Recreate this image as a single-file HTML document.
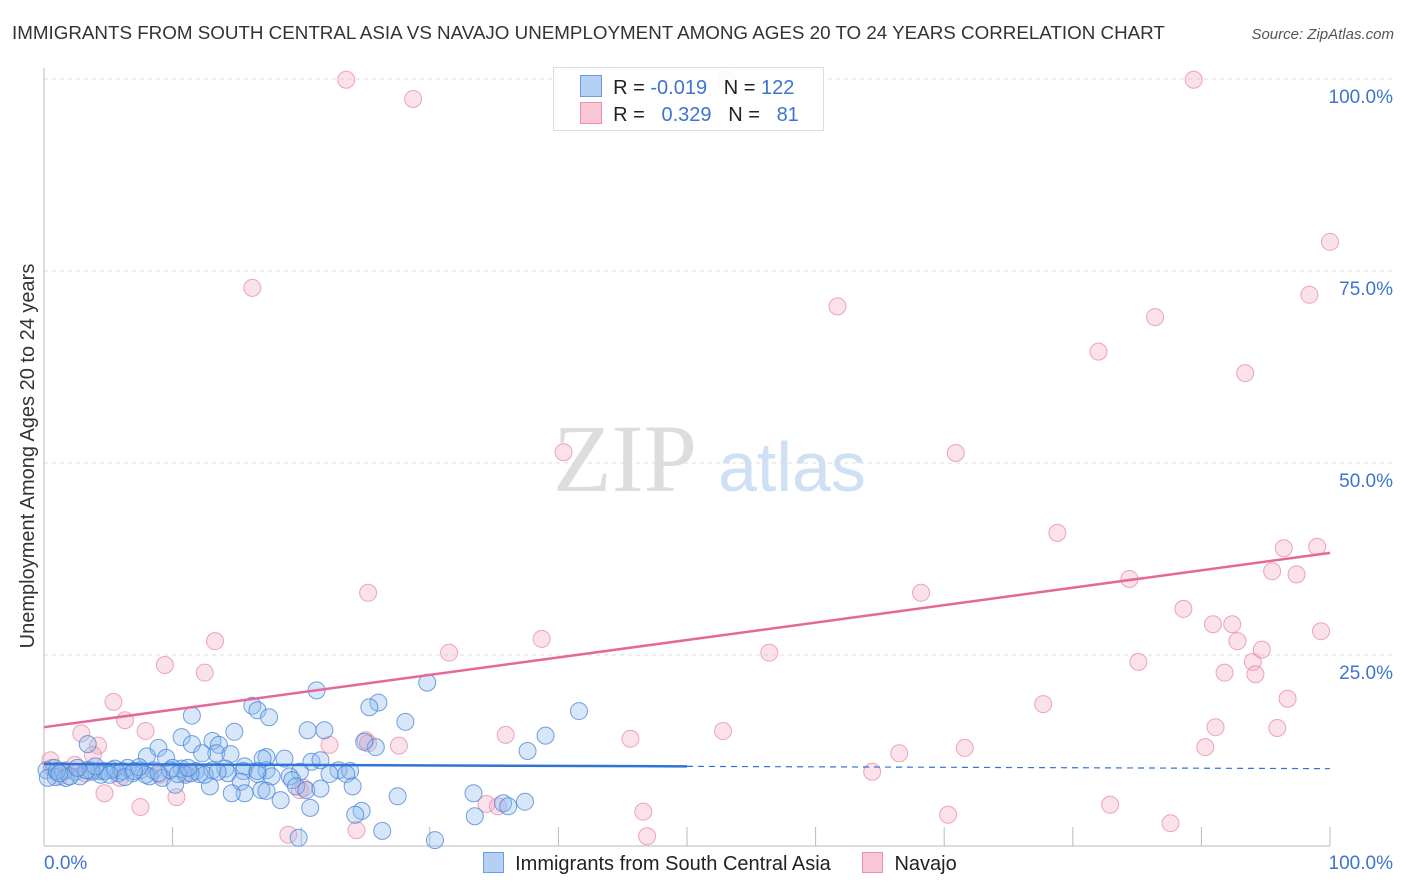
<!DOCTYPE html>
<html><head><meta charset="utf-8"><style>
body{margin:0;background:#fff;font-family:"Liberation Sans",sans-serif;}
#c{position:relative;width:1406px;height:892px;overflow:hidden}
</style></head><body>
<div id="c">
<svg id="s" width="1406" height="892" style="position:absolute;left:0;top:0">
<text x="12" y="39" font-size="18.8" fill="#333">IMMIGRANTS FROM SOUTH CENTRAL ASIA VS NAVAJO UNEMPLOYMENT AMONG AGES 20 TO 24 YEARS CORRELATION CHART</text>
<text x="1394" y="39" font-size="15" fill="#555" font-style="italic" text-anchor="end">Source: ZipAtlas.com</text>
<text x="34" y="456" font-size="20" fill="#333" text-anchor="middle" transform="rotate(-90 34 456)">Unemployment Among Ages 20 to 24 years</text>
<text x="553" y="491" font-size="96" fill="#ddd" font-family="Liberation Serif,serif">ZIP</text>
<text x="718" y="491" font-size="70" fill="#cfe0f5">atlas</text>
<g id="grid"></g><g id="pts"></g><g id="lines"></g>
</svg>
</div>
<script>
const yTicks=[25,50,75,100];
const xTicks=[0,10,20,30,40,50,60,70,80,90,100];
const blueX=[21.2,29.8,11.5,26.0,25.3,16.2,16.6,17.5,28.1,41.6,39.0,37.6,14.8,10.7,3.4,8.9,8.0,9.5,11.5,13.1,13.6,13.4,12.3,14.5,17.3,18.7,20.5,21.8,25.8,24.9,20.8,21.5,22.9,23.8,19.9,19.1,17.3,15.6,15.5,14.1,13.1,11.8,10.7,10.0,8.5,7.5,6.5,5.3,4.3,3.6,2.4,1.5,0.8,0.2,2.8,4.4,5.8,6.9,8.2,9.2,11.0,12.1,14.3,16.6,17.7,22.2,23.5,19.3,19.6,20.4,21.5,24.0,16.9,15.3,12.9,10.2,12.5,11.4,7.9,0.9,1.7,15.6,17.3,14.6,27.5,33.4,20.7,18.4,24.7,26.3,24.2,33.5,35.7,36.1,37.4,19.8,30.4,4.7,5.5,6.1,3.7,2.0,0.3,1.0,3.3,4.0,7.4,9.8,1.2,2.6,5.1,6.3,7.0,8.9,10.4,17.0,16.6,11.2,13.5];
const blueY=[20.4,21.4,17.1,18.8,18.2,18.4,17.8,16.9,16.3,17.7,14.5,12.5,15.0,14.3,13.4,12.9,11.8,11.6,13.4,13.8,13.3,12.2,12.2,12.1,11.7,11.5,15.2,15.2,13.0,13.7,11.1,11.3,10.0,9.9,9.8,9.2,10.0,10.5,9.9,10.2,10.0,9.9,10.2,10.3,10.0,10.0,10.3,10.0,9.9,10.0,9.8,9.9,10.3,10.0,9.2,9.4,9.6,9.6,9.2,9.0,9.4,9.5,9.6,9.5,9.2,9.5,9.5,8.7,7.9,7.4,7.6,7.9,7.4,8.5,7.9,8.1,9.4,9.6,9.4,9.1,9.0,7.0,7.3,7.0,6.6,7.0,5.1,6.1,4.7,2.1,4.2,4.0,5.7,5.3,5.9,1.2,0.9,9.9,10.2,9.9,9.8,9.2,9.0,9.9,10.0,10.5,10.4,10.0,9.6,10.3,9.4,9.1,9.9,9.6,9.5,11.5,9.9,10.3,9.8];
const pinkX=[23.5,28.7,53.1,89.4,100,16.2,61.7,98.4,86.4,82.0,93.4,40.4,70.9,78.8,25.2,84.4,68.2,95.5,96.4,97.4,99.0,88.6,90.9,92.4,92.8,99.3,38.7,13.3,31.5,56.4,9.4,12.5,85.1,94.0,94.7,91.8,94.2,5.4,6.3,96.7,77.7,91.1,95.9,2.9,7.9,52.8,35.9,45.6,4.2,27.6,71.6,90.3,66.5,22.2,25.0,64.4,3.8,0.6,1.2,3.2,9.0,11.0,5.9,4.7,7.5,10.3,34.4,35.3,82.9,46.6,70.3,87.6,19.0,24.3,46.9,19.9,20.2,25.2,0.5,1.7,2.4];
const pinkY=[99.9,97.4,99.9,99.9,78.8,72.8,70.4,71.9,69.0,64.5,61.7,51.4,51.3,40.9,33.1,34.9,33.1,35.9,38.9,35.5,39.1,31.0,29.0,29.0,26.8,28.1,27.1,26.8,25.3,25.3,23.7,22.7,24.1,24.1,25.7,22.7,22.5,18.9,16.5,19.3,18.6,15.6,15.5,14.8,15.1,15.1,14.6,14.1,13.2,13.2,12.9,13.0,12.2,13.3,13.9,9.8,12.0,10.3,9.2,9.6,9.4,9.6,9.0,7.0,5.2,6.5,5.6,5.3,5.5,4.6,4.2,3.1,1.6,2.2,1.4,7.4,7.7,13.5,11.3,10.0,10.7];
const pinkTrend=[15.6,38.3];
const blueTrend=[10.8,10.2];
const X0=44,X1=1330,Y0=847,Y1=79;
const xs=v=>X0+(X1-X0)*v/100, ys=v=>Y0-(Y0-Y1)*v/100;
const NS='http://www.w3.org/2000/svg';
function mk(tag,at,par){const e=document.createElementNS(NS,tag);for(const k in at)e.setAttribute(k,at[k]);par.appendChild(e);return e;}
const G=document.getElementById('grid'),P=document.getElementById('pts'),L=document.getElementById('lines'),S=document.getElementById('s');
yTicks.forEach(t=>{
 const l=mk('line',{x1:X0,x2:1392,y1:ys(t),y2:ys(t),stroke:'#ddd','stroke-dasharray':'4,4'},G);
 
 
 const tx=mk('text',{x:1393,y:ys(t)+24,'font-size':19,fill:'#3d74cf','text-anchor':'end'},G);tx.textContent=t.toFixed(1)+'%';
 
 
});
xTicks.forEach(t=>{
 const l=mk('line',{x1:xs(t),x2:xs(t),y1:t==0?68:827,y2:846,stroke:'#bbb'},G);
 
 
});
const ax=mk('line',{x1:X0,x2:X1,y1:846,y2:846,stroke:'#bbb'},G);


const xl0=mk('text',{x:44,y:869,'font-size':19,fill:'#3d74cf'},G);xl0.textContent='0.0%';


const xl1=mk('text',{x:1393,y:869,'font-size':19,fill:'#3d74cf','text-anchor':'end'},G);xl1.textContent='100.0%';


pinkX.forEach((v,i)=>{const c=mk('circle',{cx:xs(v),cy:ys(pinkY[i]),r:8.5,fill:'rgba(244,170,192,0.35)',stroke:'rgba(232,130,160,0.7)','stroke-width':1},P);
 
 });
blueX.forEach((v,i)=>{const c=mk('circle',{cx:xs(v),cy:ys(blueY[i]),r:8.5,fill:'rgba(140,185,238,0.35)',stroke:'rgba(70,130,215,0.75)','stroke-width':1},P);
 
 });
const pl=mk('line',{x1:xs(0),y1:ys(pinkTrend[0]),x2:xs(100),y2:ys(pinkTrend[1]),stroke:'#e5689a','stroke-width':2.5},L);


const bmid=blueTrend[0]+(blueTrend[1]-blueTrend[0])*0.5;
const bl=mk('line',{x1:xs(0),y1:ys(blueTrend[0]),x2:xs(50),y2:ys(bmid),stroke:'#2f74d6','stroke-width':2.5},L);


const bd=mk('line',{x1:xs(50),y1:ys(bmid),x2:xs(100),y2:ys(blueTrend[1]),stroke:'#2f74d6','stroke-width':1.2,'stroke-dasharray':'6,5'},L);


</script>
<div style="position:absolute;left:553px;top:67px;width:269px;height:62px;border:1px solid #ddd;background:rgba(255,255,255,0.9);font-size:20px;color:#222">
 <div style="position:absolute;left:26px;top:7px;white-space:pre"><span style="display:inline-block;width:20px;height:20px;background:#b4d0f4;border:1px solid #6a9ce0;vertical-align:-3px"></span>  R = <span style="color:#3d74cf">-0.019</span>   N = <span style="color:#3d74cf">122</span></div>
 <div style="position:absolute;left:26px;top:34px;white-space:pre"><span style="display:inline-block;width:20px;height:20px;background:#f8c6d4;border:1px solid #eb93ad;vertical-align:-3px"></span>  R =   <span style="color:#3d74cf">0.329</span>   N =   <span style="color:#3d74cf">81</span></div>
</div>
<div style="position:absolute;top:852px;left:483px;font-size:20px;color:#222;white-space:nowrap">
 <span><span style="display:inline-block;width:19px;height:19px;background:#b4d0f4;border:1px solid #6a9ce0;vertical-align:-3px"></span>&nbsp; Immigrants from South Central Asia</span>
 <span style="margin-left:26px"><span style="display:inline-block;width:19px;height:19px;background:#f8c6d4;border:1px solid #eb93ad;vertical-align:-3px"></span>&nbsp; Navajo</span>
</div>
</body></html>
